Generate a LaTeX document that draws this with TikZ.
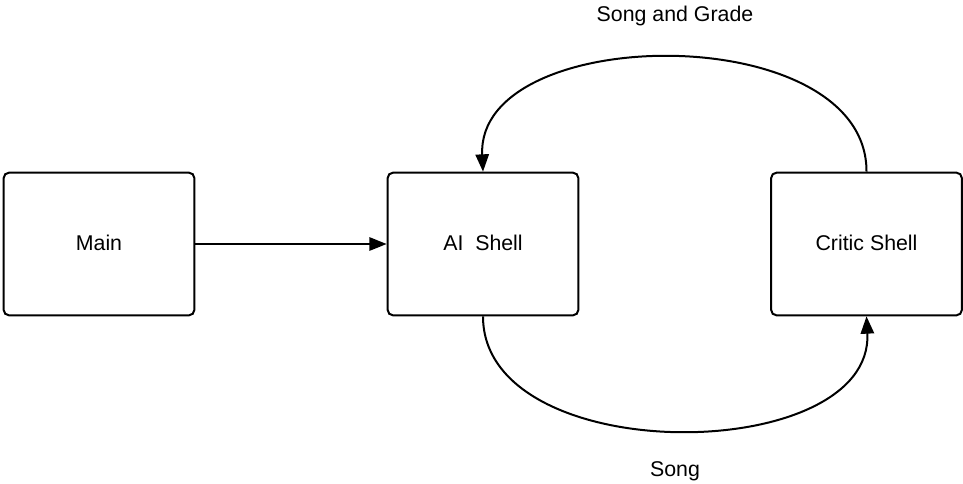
\documentclass[tikz,border=0pt]{standalone}
\usepackage{fontspec}
\setmainfont{Liberation Sans}
\usetikzlibrary{arrows.meta}
\begin{document}
\begin{tikzpicture}[x=0.75pt,y=-0.75pt,
  block/.style={draw,line width=1.5pt,rounded corners=4pt,minimum width=143pt,minimum height=107pt,inner sep=0pt,font=\fontsize{16}{19}\selectfont},
  link/.style={line width=1.5pt,-{Triangle[length=13pt,width=10pt]}},
  lbl/.style={font=\fontsize{16}{19}\selectfont,inner sep=0pt}]
\useasboundingbox (0,0) rectangle (963,483);
\node[block] (main) at (99,244) {\raisebox{2pt}{Main}};
\node[block] (ai) at (483,244) {\raisebox{2pt}{AI\ \ Shell}};
\node[block] (critic) at (866.5,244) {\raisebox{2pt}{Critic Shell}};
\node[lbl] (top) at (675,16) {Song and Grade};
\node[lbl] (bottom) at (675,471) {Song};
\draw[link] (main.east) -- (ai.west);
\draw[link] (critic.north) .. controls (867,18) and (476,22) .. (ai.north);
\draw[link] (ai.south) .. controls (483,470) and (874,466) .. (critic.south);
\end{tikzpicture}
\end{document}
